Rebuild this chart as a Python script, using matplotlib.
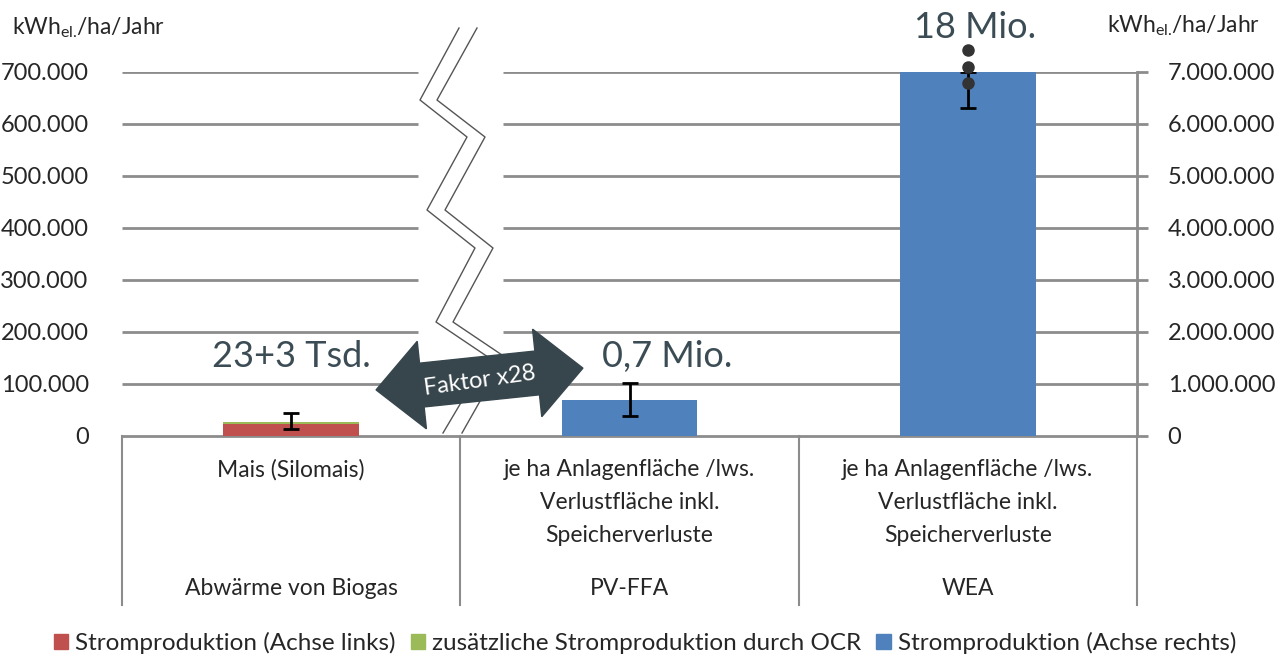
import matplotlib.pyplot as plt
import matplotlib.patches as mpatches
from matplotlib.ticker import FuncFormatter
import numpy as np

plt.rcParams['font.family'] = ['Lato', 'DejaVu Sans']
plt.rcParams['mathtext.fontset'] = 'custom'
plt.rcParams['mathtext.rm'] = 'Lato'

# Data
groups = ["Abwärme von Biogas", "PV-FFA", "WEA"]
sub_labels = ["Mais (Silomais)",
              "je ha Anlagenfläche /lws.\nVerlustfläche inkl.\nSpeicherverluste",
              "je ha Anlagenfläche /lws.\nVerlustfläche inkl.\nSpeicherverluste"]
strom_links = [23000]            # Biogas, left axis
ocr_extra = [3000]               # additional via OCR, left axis
err_links = [[13000], [18000]]   # lower / upper
strom_rechts = [700000, 7000000]  # PV-FFA, WEA on right axis (WEA cut at 7 Mio.)
err_rechts = [[315000, 690000], [320000, 0]]
wea_dots = [7420000, 7100000, 6790000]  # "continues" dots above WEA bar
labels_top = ["23+3 Tsd.", "0,7 Mio.", "18 Mio."]
left_ticks = np.arange(0, 700001, 100000)
right_ticks = np.arange(0, 7000001, 1000000)

RED = "#c0504d"
GREEN = "#9bbb59"
BLUE = "#4f81bd"
GRID = "#8c8c8c"
TXT = "#262626"
ANN = "#3b4c55"
W, H = 1287, 657


def px(x, y):
    # pixel (from top-left) -> figure fraction
    return x / W, 1 - y / H


def thousands(v, pos):
    return f"{int(round(v)):,}".replace(",", ".")


fig = plt.figure(figsize=(W / 100, H / 100), dpi=100)
x0, y1 = px(122, 72)
x1, y0 = px(1137, 436)
ax = fig.add_axes([x0, y0, x1 - x0, y1 - y0])
ax2 = ax.twinx()

ax.set_xlim(-0.5, 2.5)
ax.set_ylim(0, 700000)
ax2.set_ylim(0, 7000000)

# gridlines with a gap for the axis break
for t in left_ticks[1:]:
    ax.hlines(t, -0.5, 0.375, color=GRID, lw=2, zorder=1)
    ax.hlines(t, 0.626, 2.5, color=GRID, lw=2, zorder=1)

# bars
x_left = [0]
x_right = [1, 2]
ax.bar(x_left, strom_links, 0.4, color=RED, zorder=3)
ax.bar(x_left, ocr_extra, 0.4, bottom=strom_links, color=GREEN, zorder=3)
tops = [a + b for a, b in zip(strom_links, ocr_extra)]
ax.errorbar(x_left, tops, yerr=err_links, fmt="none", ecolor="black", elinewidth=2,
            capsize=6, capthick=2, zorder=4)
ax2.bar(x_right, strom_rechts, 0.4, color=BLUE, zorder=3)
ax2.errorbar(x_right, strom_rechts, yerr=err_rechts, fmt="none", ecolor="black",
             elinewidth=2, capsize=6, capthick=2, zorder=4)
ax2.plot([2.0] * len(wea_dots), wea_dots, "o", color="#333333", ms=8, clip_on=False, zorder=5)

# value labels
ax.text(0, 152000, labels_top[0], ha="center", va="center", fontsize=26, color=ANN)
ax.text(1.11, 152000, labels_top[1], ha="center", va="center", fontsize=26, color=ANN)
ax.text(2.02, 785000, labels_top[2], ha="center", va="center", fontsize=26, color=ANN,
        clip_on=False)

# axes styling
for s in ["top", "left"]:
    ax.spines[s].set_visible(False)
    ax2.spines[s].set_visible(False)
ax.spines["right"].set_visible(False)
ax.spines["bottom"].set_color(GRID)
ax.spines["bottom"].set_linewidth(2)
ax2.spines["bottom"].set_visible(False)
ax2.spines["right"].set_color(GRID)
ax2.spines["right"].set_linewidth(2)

ax.set_yticks(left_ticks)
ax.yaxis.set_major_formatter(FuncFormatter(thousands))
ax.tick_params(axis="y", length=0, pad=24, labelsize=17, labelcolor=TXT)
ax.set_xticks([])
ax2.set_yticks(right_ticks)
ax2.yaxis.set_major_formatter(FuncFormatter(thousands))
ax2.tick_params(axis="y", length=8, width=2, color=GRID, pad=14, labelsize=17, labelcolor=TXT)

# unit labels
unit = r"kWh$_{\rm el.}\!$/ha/Jahr"
fig.text(*px(12, 28), unit, fontsize=16.5, color=TXT, va="center")
fig.text(*px(1107, 26), unit, fontsize=16.5, color=TXT, va="center")

# category table below the plot
xt = ax.get_xaxis_transform()
for b in [-0.5, 0.5, 1.5, 2.5]:
    ax.plot([b, b], [0, -0.464], color=GRID, lw=1.5, transform=xt, clip_on=False)
for i, (g, s) in enumerate(zip(groups, sub_labels)):
    ax.text(i, -0.062, s, transform=xt, ha="center", va="top", fontsize=16.5,
            color=TXT, linespacing=1.72)
    ax.text(i, -0.418, g, transform=xt, ha="center", va="center", fontsize=16.5, color=TXT)

# zigzag axis break
zz_left = [(459, 28), (420, 100), (467, 137), (427, 210), (475, 248), (436, 322), (488, 357), (443, 433)]
zz_right = [(477, 28), (437, 100), (485, 137), (445, 210), (493, 248), (453, 322), (505, 357), (462, 433)]
for zz in (zz_left, zz_right):
    pts = [px(x, y) for x, y in zz]
    fig.add_artist(plt.Line2D([p[0] for p in pts], [p[1] for p in pts], color="#555555", lw=1))

# double arrow "Faktor x28"
cx, cy = 479.5, 379
ang = np.deg2rad(6)
L, hl, sw, hw = 208, 46, 22, 44
local = [(-L / 2, 0), (-L / 2 + hl, hw), (-L / 2 + hl, sw), (L / 2 - hl, sw), (L / 2 - hl, hw),
         (L / 2, 0), (L / 2 - hl, -hw), (L / 2 - hl, -sw), (-L / 2 + hl, -sw), (-L / 2 + hl, -hw)]
poly = []
for u, v in local:
    xp = cx + u * np.cos(ang) + v * np.sin(ang)
    yp = cy - u * np.sin(ang) + v * np.cos(ang)
    poly.append(px(xp, yp))
fig.add_artist(mpatches.Polygon(poly, closed=True, facecolor="#36464c", edgecolor="#36464c",
                                transform=fig.transFigure, zorder=10))
fig.text(*px(cx, cy + 2), "Faktor x28", rotation=8, ha="center", va="center",
         fontsize=17, color="white", zorder=11)

# legend
handles = [mpatches.Patch(color=RED), mpatches.Patch(color=GREEN), mpatches.Patch(color=BLUE)]
names = ["Stromproduktion (Achse links)", "zusätzliche Stromproduktion durch OCR",
         "Stromproduktion (Achse rechts)"]
fig.legend(handles, names, loc="center", bbox_to_anchor=(px(645, 643)), ncol=3, frameon=False,
           fontsize=17.5, handlelength=0.6, handleheight=0.6, handletextpad=0.3,
           columnspacing=0.6, labelcolor=TXT)

fig.savefig("out.png", dpi=100)
